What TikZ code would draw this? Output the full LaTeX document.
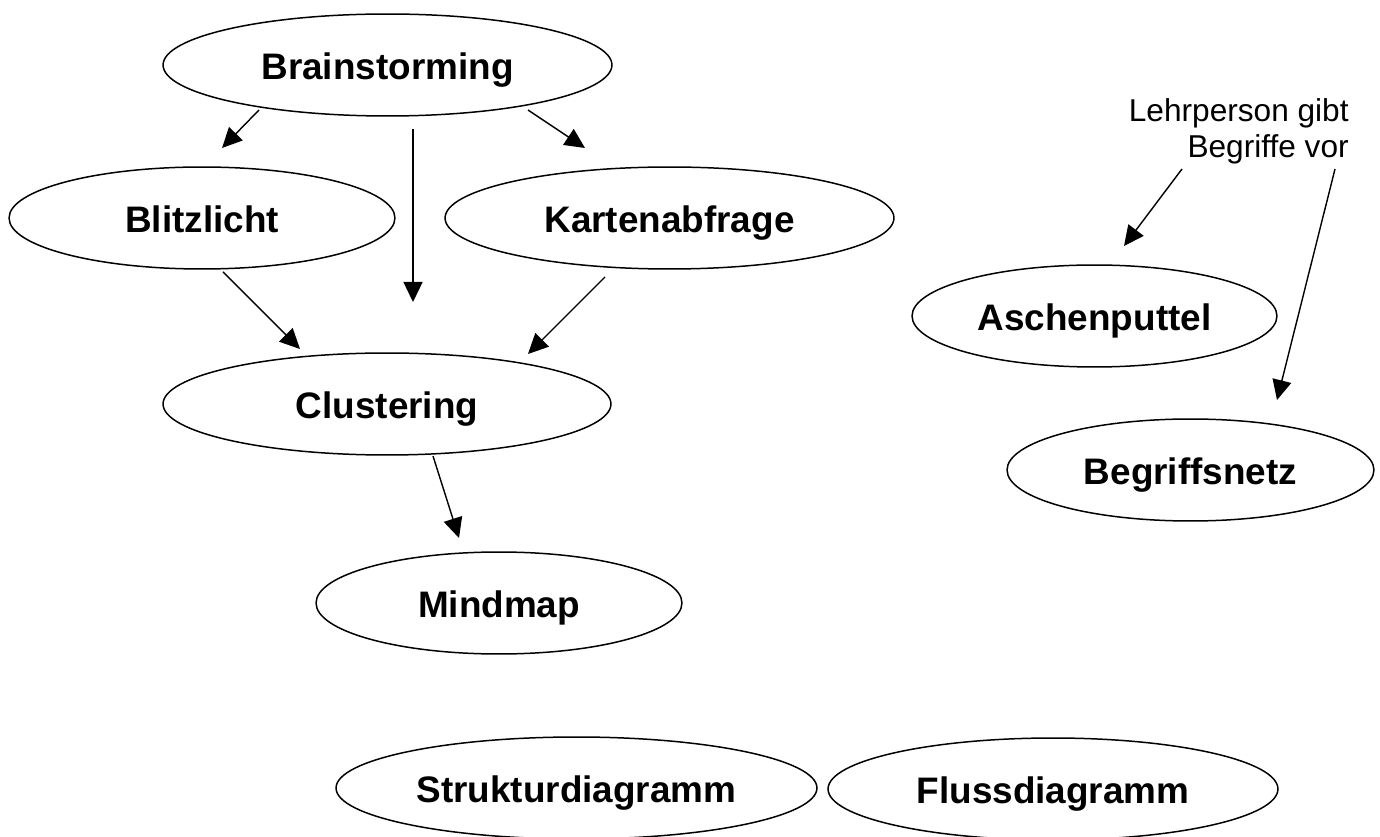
\documentclass[tikz,border=0pt]{standalone}
\usepackage{fontspec}
\setmainfont{Liberation Sans}
\usetikzlibrary{shapes.geometric,arrows.meta}
\tikzset{
  bubble/.style={draw=black, line width=0.85pt, ellipse, inner sep=0pt,
    minimum height=2.04cm, text height=0.6cm, text depth=0cm,
    font=\fontsize{21}{25}\selectfont\bfseries},
  link/.style={draw=black, line width=0.8pt, -{Triangle[length=0.4cm,width=0.38cm]}},
  note/.style={inner sep=0pt, align=right, font=\fontsize{18}{20.5}\selectfont}
}
\begin{document}
\begin{tikzpicture}[x=0.02cm,y=-0.02cm]
\useasboundingbox[fill=white] (0,0) rectangle (1380,837);

\node[bubble, minimum width=8.98cm] (brain) at (387.5,65) {Brainstorming};
\node[bubble, minimum width=7.72cm] (blitz) at (202,218) {Blitzlicht};
\node[bubble, minimum width=8.98cm] (karten) at (669.5,218) {Kartenabfrage};
\node[bubble, minimum width=8.96cm] (cluster) at (387,404) {Clustering};
\node[bubble, minimum width=7.32cm] (mind) at (499,603) {Mindmap};
\node[bubble, minimum width=7.30cm] (aschen) at (1094.5,316) {Aschenputtel};
\node[bubble, minimum width=7.34cm] (begriff) at (1190.5,470) {Begriffsnetz};
\node[bubble, minimum width=9.62cm] (struktur) at (576.5,788) {Strukturdiagramm};
\node[bubble, minimum width=9.00cm] (fluss) at (1053,789) {Flussdiagramm};

\node[note, anchor=north east] (lbl) at (1349,98) {Lehrperson gibt\\Begriffe vor};

\coordinate (a1s) at (259,110);  \coordinate (a1e) at (222,148);
\coordinate (a2s) at (413,129);  \coordinate (a2e) at (413,302);
\coordinate (a3s) at (528,110);  \coordinate (a3e) at (585,148);
\coordinate (a4s) at (223,272);  \coordinate (a4e) at (300,349);
\coordinate (a5s) at (605,277);  \coordinate (a5e) at (528,354);
\coordinate (a6s) at (433,456);  \coordinate (a6e) at (459,538);
\coordinate (a7s) at (1182,169); \coordinate (a7e) at (1124,246);
\coordinate (a8s) at (1335,169); \coordinate (a8e) at (1277,400);

\draw[link] (a1s) -- (a1e);
\draw[link] (a2s) -- (a2e);
\draw[link] (a3s) -- (a3e);
\draw[link] (a4s) -- (a4e);
\draw[link] (a5s) -- (a5e);
\draw[link] (a6s) -- (a6e);
\draw[link] (a7s) -- (a7e);
\draw[link] (a8s) -- (a8e);
\end{tikzpicture}
\end{document}
